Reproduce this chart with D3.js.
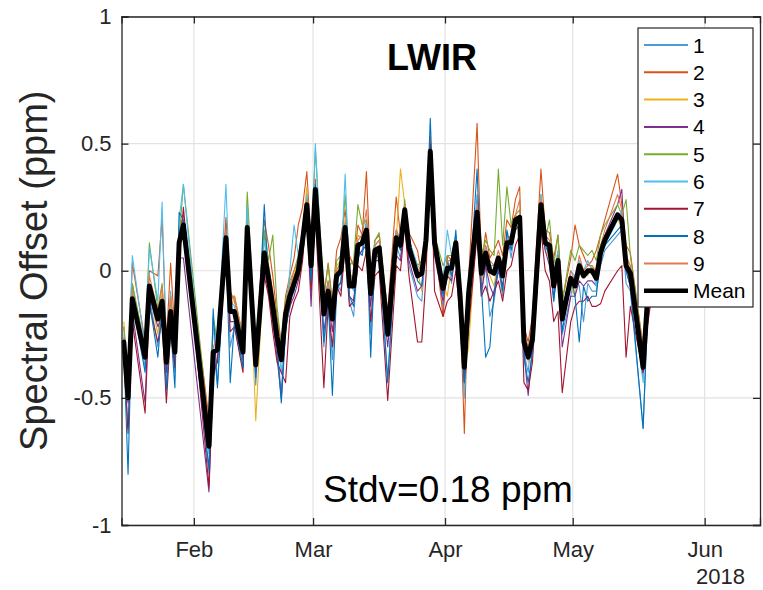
<!DOCTYPE html>
<html>
<head>
<meta charset="utf-8">
<script src="https://cdn.jsdelivr.net/npm/d3@7/dist/d3.min.js"></script>
<style>
  html, body { margin: 0; padding: 0; background: #fff; }
  svg { display: block; font-family: "Liberation Sans", Arial, Helvetica, sans-serif; }
</style>
</head>
<body>
<svg id="chart" width="763" height="590"></svg>
<script>
// ---- data (day offsets from 15 Jan 2018) ----
const days = [0,1,2,5,6,8,9,10,11,12, 13,14,20,21,22,24,25,26,28,29,
  31,33,34,35,36,37,38,39,40,41, 42,43,44,45,47,48,49,50,51,52,
  53,54,55,56,57,58,59,60,62,64, 65,66,67,69,70,71,72,73,75,76,
  77,78,79,80,81,83,84,85,86,87, 88,89,90,91,92,93,94,95,96,98,
  99,100,101,102,103,105,106,107,108,109, 110,111,112,113,116,117,118,119,122,123,
  124];

const meanValues = [-0.28,-0.50,-0.11,-0.34,-0.06,-0.19,-0.12,-0.36,-0.16,-0.32,
  0.11,0.18,-0.69,-0.32,-0.31,0.13,-0.16,-0.16,-0.32,0.17,
  -0.37,0.07,-0.03,-0.14,-0.26,-0.35,-0.17,-0.10,-0.05,0.00,
  0.12,0.26,0.02,0.32,-0.17,-0.08,-0.19,-0.02,0.00,0.17,
  -0.06,-0.06,0.10,0.11,0.16,-0.09,0.08,0.09,-0.25,0.13,
  0.10,0.24,0.09,-0.02,-0.01,0.12,0.47,0.11,-0.07,0.01,
  0.01,0.11,-0.10,-0.38,-0.09,0.23,-0.01,0.07,0.00,-0.01,
  0.05,-0.02,0.11,0.11,0.20,0.21,-0.28,-0.34,-0.27,0.26,
  0.11,0.10,-0.06,0.04,-0.19,-0.03,-0.06,0.02,-0.02,0.00,
  0.00,-0.03,0.07,0.12,0.22,0.20,0.02,-0.01,-0.38,-0.12,
  -0.02];

const s1 = [-0.32,-0.62,-0.05,-0.38,-0.10,-0.30,-0.10,-0.45,-0.20,-0.40,
  0.15,0.20,-0.80,-0.30,-0.45,0.18,-0.30,-0.22,-0.38,0.12,
  -0.45,0.15,-0.08,-0.22,-0.30,-0.48,-0.22,-0.15,-0.05,0.05,
  0.10,0.22,-0.05,0.30,-0.30,-0.12,-0.35,-0.05,-0.08,0.15,
  -0.12,-0.18,0.05,0.08,0.20,-0.25,0.05,0.06,-0.42,0.10,
  0.05,0.18,0.02,-0.10,-0.12,0.10,0.52,0.18,-0.15,0.05,
  -0.05,0.14,-0.20,-0.50,-0.15,0.30,-0.10,0.02,-0.18,-0.12,
  0.02,-0.10,0.15,0.05,0.18,0.16,-0.32,-0.40,-0.22,0.22,
  0.12,0.05,-0.12,0.02,-0.25,-0.10,-0.02,-0.06,-0.20,-0.05,
  -0.08,-0.08,0.02,0.08,0.14,0.16,-0.05,-0.08,-0.62,-0.20,
  -0.05];
const s2 = [-0.22,-0.42,0.03,-0.28,0.00,-0.02,0.21,-0.28,0.03,-0.25,
  0.16,0.22,-0.58,-0.22,-0.27,0.21,-0.08,-0.12,-0.28,0.20,
  -0.34,0.20,0.10,-0.02,-0.18,-0.28,-0.10,-0.02,0.05,0.18,
  0.25,0.39,0.10,0.36,-0.10,0.03,-0.12,0.08,0.13,0.24,
  0.06,0.02,0.18,0.14,0.39,-0.02,0.12,0.14,-0.16,0.29,
  0.14,0.26,0.15,0.08,-0.02,0.16,0.53,0.13,-0.18,0.06,
  0.04,0.07,-0.12,-0.64,-0.03,0.58,0.02,0.15,0.05,0.08,
  0.12,0.06,0.20,0.17,0.28,0.33,-0.22,-0.28,-0.18,0.40,
  0.16,0.15,0.05,0.14,-0.12,0.05,0.18,0.10,0.06,0.02,
  0.04,0.08,0.14,0.20,0.38,0.26,0.10,0.07,-0.30,-0.05,
  0.05];
const s3 = [-0.20,-0.45,-0.14,-0.32,-0.08,-0.25,-0.08,-0.38,-0.12,-0.30,
  0.08,0.15,-0.65,-0.35,-0.28,0.12,-0.15,-0.10,-0.30,0.29,
  -0.59,0.05,-0.02,-0.10,-0.22,-0.30,-0.15,-0.06,-0.02,0.04,
  0.15,0.33,0.05,0.30,-0.15,-0.05,-0.20,0.02,0.04,0.12,
  -0.04,-0.02,0.14,0.13,0.12,-0.06,0.10,0.12,-0.22,0.12,
  0.40,0.26,0.10,0.00,-0.08,0.15,0.42,0.08,-0.05,-0.10,
  0.02,0.10,-0.12,-0.40,-0.30,0.20,-0.05,0.04,-0.02,-0.06,
  0.06,-0.08,0.12,0.14,0.22,0.20,-0.24,-0.36,-0.26,0.22,
  0.08,0.05,-0.04,0.00,-0.18,-0.06,-0.10,0.03,0.00,-0.02,
  0.02,-0.02,0.10,0.14,0.20,0.18,0.05,0.02,-0.35,-0.10,
  0.00];
const s4 = [-0.35,-0.52,-0.16,-0.52,-0.10,-0.22,-0.18,-0.40,-0.22,-0.35,
  0.05,0.05,-0.87,-0.42,-0.34,0.06,-0.20,-0.20,-0.35,0.10,
  -0.40,0.00,-0.08,-0.20,-0.34,-0.50,-0.22,-0.14,-0.10,-0.04,
  0.06,0.22,-0.14,0.28,-0.24,-0.12,-0.24,-0.06,-0.05,0.14,
  -0.10,-0.12,0.06,0.08,0.10,-0.14,0.04,0.04,-0.30,0.06,
  0.04,0.20,0.04,-0.08,-0.06,0.08,0.45,0.06,-0.12,-0.02,
  -0.04,0.08,-0.14,-0.42,-0.10,0.15,-0.08,0.02,-0.06,-0.10,
  0.00,-0.06,0.08,0.10,0.16,0.18,-0.32,-0.49,-0.30,0.18,
  0.08,0.02,-0.10,0.00,-0.30,-0.10,-0.10,-0.04,-0.06,-0.04,
  -0.04,-0.06,0.06,0.14,0.26,0.32,0.00,-0.06,-0.42,-0.15,
  -0.06];
const s5 = [-0.22,-0.45,-0.05,-0.30,0.11,-0.15,-0.05,-0.32,-0.10,-0.28,
  0.12,0.34,-0.62,-0.18,-0.28,0.12,-0.10,-0.10,-0.26,0.31,
  -0.30,0.16,0.04,0.14,-0.14,-0.30,-0.12,-0.04,0.00,0.06,
  0.16,0.28,0.06,0.48,-0.10,0.02,-0.14,0.04,0.06,0.30,
  0.02,0.04,0.26,0.18,0.20,-0.04,0.12,0.15,-0.18,0.16,
  0.10,0.28,0.12,0.02,0.04,0.18,0.44,0.14,0.02,0.06,
  0.06,0.14,-0.06,-0.32,-0.04,0.24,0.06,0.12,0.08,0.06,
  0.40,0.10,0.33,0.18,0.22,0.24,-0.26,-0.30,-0.22,0.30,
  0.12,0.20,0.02,0.14,-0.12,0.08,0.04,0.10,0.08,0.06,
  0.08,0.04,0.14,0.18,0.26,0.22,0.28,0.06,-0.30,-0.08,
  0.02];
const s6 = [-0.25,-0.48,0.06,-0.30,0.09,-0.12,0.27,-0.34,-0.08,-0.30,
  0.20,0.34,-0.72,-0.20,-0.30,0.34,-0.12,-0.14,-0.28,0.26,
  -0.36,0.12,0.02,-0.10,-0.24,-0.40,-0.18,0.00,0.18,0.06,
  0.14,0.30,0.04,0.50,-0.16,-0.04,-0.18,-0.02,0.02,0.38,
  -0.04,-0.08,0.12,0.14,0.18,-0.10,0.10,0.12,-0.24,0.16,
  0.12,0.18,0.12,0.02,0.00,0.20,0.46,0.08,-0.04,0.16,
  0.06,0.14,-0.08,-0.50,-0.08,0.26,0.00,0.10,0.02,0.02,
  0.06,0.00,0.12,0.12,0.20,0.22,-0.24,-0.34,-0.28,0.30,
  0.14,0.08,-0.02,0.08,-0.16,0.00,-0.02,0.04,0.00,0.04,
  0.00,-0.06,0.06,0.10,0.20,0.24,0.04,-0.02,-0.44,-0.12,
  0.00];
const s7 = [-0.34,-0.64,-0.20,-0.56,-0.14,-0.28,-0.20,-0.52,-0.24,-0.38,
  0.05,0.25,-0.85,-0.40,-0.36,0.08,-0.24,-0.22,-0.40,0.14,
  -0.40,-0.02,-0.10,-0.24,-0.36,-0.40,-0.44,-0.18,-0.12,-0.08,
  0.04,0.24,-0.08,0.22,-0.46,-0.14,-0.30,-0.06,-0.10,0.10,
  -0.14,-0.12,0.02,0.00,0.08,-0.20,-0.02,0.00,-0.51,0.02,
  0.00,0.18,-0.02,-0.28,-0.28,-0.02,0.50,-0.08,-0.18,-0.12,
  -0.10,0.00,-0.18,-0.44,-0.22,0.14,-0.10,-0.06,-0.12,-0.08,
  -0.04,-0.12,0.00,0.02,0.10,0.14,-0.44,-0.47,-0.36,0.16,
  0.00,-0.04,-0.20,-0.16,-0.48,-0.20,-0.14,-0.12,-0.12,-0.10,
  -0.14,-0.14,-0.13,-0.08,0.00,0.02,-0.34,-0.14,-0.40,-0.22,
  -0.10];
const s8 = [-0.30,-0.80,-0.12,-0.40,-0.12,-0.34,-0.14,-0.47,-0.22,-0.46,
  0.23,0.20,-0.78,-0.15,-0.46,0.10,-0.44,-0.20,-0.38,0.18,
  -0.42,0.26,-0.04,-0.18,-0.30,-0.52,-0.24,-0.12,-0.08,0.02,
  0.10,0.24,-0.04,0.34,-0.28,-0.10,-0.49,-0.08,-0.04,0.18,
  -0.10,-0.14,0.08,0.06,0.16,-0.34,0.06,0.08,-0.44,0.12,
  0.08,0.22,0.14,-0.04,-0.06,0.15,0.60,0.14,-0.10,0.04,
  -0.02,0.16,-0.16,-0.44,-0.12,0.40,-0.06,-0.34,-0.30,-0.08,
  0.02,-0.08,0.16,0.08,0.18,0.20,-0.34,-0.44,-0.32,0.22,
  0.10,0.06,-0.12,0.06,-0.24,-0.02,-0.10,-0.28,-0.06,-0.12,
  -0.10,-0.10,0.06,0.10,0.16,0.18,0.00,-0.06,-0.62,-0.18,
  -0.06];
const s9 = [-0.26,-0.46,-0.08,-0.30,-0.02,-0.16,-0.06,-0.30,-0.10,-0.28,
  0.14,0.18,-0.60,-0.30,-0.26,0.16,-0.12,-0.10,-0.26,0.18,
  -0.32,0.08,0.02,-0.08,-0.20,-0.30,-0.14,-0.06,0.00,0.04,
  0.14,0.28,0.06,0.30,-0.12,-0.04,-0.14,0.00,0.04,0.20,
  -0.02,-0.02,0.12,0.14,0.24,-0.04,0.10,0.12,-0.20,0.16,
  0.12,0.26,0.10,0.00,0.02,0.14,0.45,0.12,-0.04,0.04,
  0.04,0.12,-0.06,-0.36,-0.06,0.26,0.02,0.10,0.04,0.02,
  0.08,0.02,0.12,0.14,0.22,0.28,-0.24,-0.30,-0.24,0.28,
  0.14,0.12,-0.02,0.06,-0.16,0.00,-0.04,0.06,0.00,0.02,
  0.02,0.00,0.10,0.16,0.30,0.24,0.06,0.02,-0.30,-0.08,
  0.02];

const seriesNames = ["1","2","3","4","5","6","7","8","9"];
const seriesValues = [s1,s2,s3,s4,s5,s6,s7,s8,s9];
const seriesColors = ["#4D9BD6","#D95319","#EDB120","#7E2F8E","#77AC30","#4DBEEE","#A2142F","#0072BD","#E07A50"];
const monthTicks = ["2018-02-01","2018-03-01","2018-04-01","2018-05-01","2018-06-01"];
const yTicks = [-1,-0.5,0,0.5,1];
const titleText = "LWIR";
const stdvText = "Stdv=0.18 ppm";
const yLabelText = "Spectral Offset (ppm)";
const yearText = "2018";

// ---- layout ----
const L = 121.5, R = 760, T = 16.5, B = 525;
const svg = d3.select("#chart");
const toDate = d => new Date(2018, 0, 15 + d, 13);
const x = d3.scaleTime().domain([new Date(2018,0,15), new Date(2018,5,14)]).range([L, R]);
const y = d3.scaleLinear().domain([-1, 1]).range([B, T]);
const tickDates = monthTicks.map(s => { const p = s.split("-"); return new Date(+p[0], +p[1]-1, +p[2]); });
const axisColor = "#262626";

svg.append("rect").attr("width", 763).attr("height", 590).attr("fill", "#fff");

// grid
const grid = svg.append("g").attr("stroke", "#e2e2e2").attr("stroke-width", 1.2);
grid.selectAll("line.v").data(tickDates).join("line")
  .attr("x1", d => x(d)).attr("x2", d => x(d)).attr("y1", T).attr("y2", B);
grid.selectAll("line.h").data(yTicks).join("line")
  .attr("x1", L).attr("x2", R).attr("y1", d => y(d)).attr("y2", d => y(d));

// clip
svg.append("clipPath").attr("id", "clip").append("rect")
  .attr("x", L).attr("y", T).attr("width", R - L).attr("height", B - T);

const line = d3.line().x((d, i) => x(toDate(days[i]))).y(d => y(d));
const plot = svg.append("g").attr("clip-path", "url(#clip)");
seriesValues.forEach((vals, k) => {
  plot.append("path").datum(vals).attr("d", line)
    .attr("fill", "none").attr("stroke", seriesColors[k]).attr("stroke-width", 1.1)
    .attr("stroke-linejoin", "round");
});
plot.append("path").datum(meanValues).attr("d", line)
  .attr("fill", "none").attr("stroke", "#000").attr("stroke-width", 5)
  .attr("stroke-linejoin", "round").attr("stroke-linecap", "round");

// axes
const fmt = d3.timeFormat("%b");
const gx = svg.append("g").attr("transform", `translate(0,${B})`)
  .call(d3.axisBottom(x).tickValues(tickDates).tickFormat(fmt).tickSize(-7).tickPadding(16));
const gxt = svg.append("g").attr("transform", `translate(0,${T})`)
  .call(d3.axisTop(x).tickValues(tickDates).tickFormat("").tickSize(-7));
const gy = svg.append("g").attr("transform", `translate(${L},0)`)
  .call(d3.axisLeft(y).tickValues(yTicks).tickFormat(d => d === 0 ? "0" : String(d)).tickSize(-7).tickPadding(10));
const gyr = svg.append("g").attr("transform", `translate(${R},0)`)
  .call(d3.axisRight(y).tickValues(yTicks).tickFormat("").tickSize(-7));
[gx, gxt, gy, gyr].forEach(g => {
  g.select(".domain").attr("stroke", axisColor).attr("stroke-width", 1.3);
  g.selectAll(".tick line").attr("stroke", axisColor).attr("stroke-width", 1.3);
  g.selectAll(".tick text").attr("fill", axisColor).style("font-size", "22px")
    .style("font-family", '"Liberation Sans", Arial, sans-serif');
});

svg.append("text").attr("x", 745).attr("y", 584).attr("text-anchor", "end")
  .attr("fill", axisColor).style("font-size", "22px").text(yearText);

// y label
svg.append("text").attr("transform", `translate(47,${(T + B) / 2}) rotate(-90)`)
  .attr("text-anchor", "middle").attr("fill", axisColor).style("font-size", "38px").text(yLabelText);

// title and stdv
svg.append("text").attr("x", 432).attr("y", 70).attr("text-anchor", "middle")
  .attr("fill", "#000").style("font-size", "36px").style("font-weight", "bold").text(titleText);
svg.append("text").attr("x", 448).attr("y", 502).attr("text-anchor", "middle")
  .attr("fill", "#000").style("font-size", "37px").text(stdvText);

// legend
const lg = svg.append("g");
lg.append("rect").attr("x", 638).attr("y", 28).attr("width", 115).attr("height", 279)
  .attr("fill", "#fff").attr("stroke", axisColor).attr("stroke-width", 1.2);
const legendItems = seriesNames.map((n, k) => ({ name: n, color: seriesColors[k], w: 2 }))
  .concat([{ name: "Mean", color: "#000", w: 4.5 }]);
legendItems.forEach((it, i) => {
  const yy = 45 + i * 27.3;
  lg.append("line").attr("x1", 644).attr("x2", 688).attr("y1", yy).attr("y2", yy)
    .attr("stroke", it.color).attr("stroke-width", it.w);
  lg.append("text").attr("x", 693).attr("y", yy).attr("dy", "0.36em")
    .attr("fill", "#000").style("font-size", "21px").text(it.name);
});
</script>
</body>
</html>
